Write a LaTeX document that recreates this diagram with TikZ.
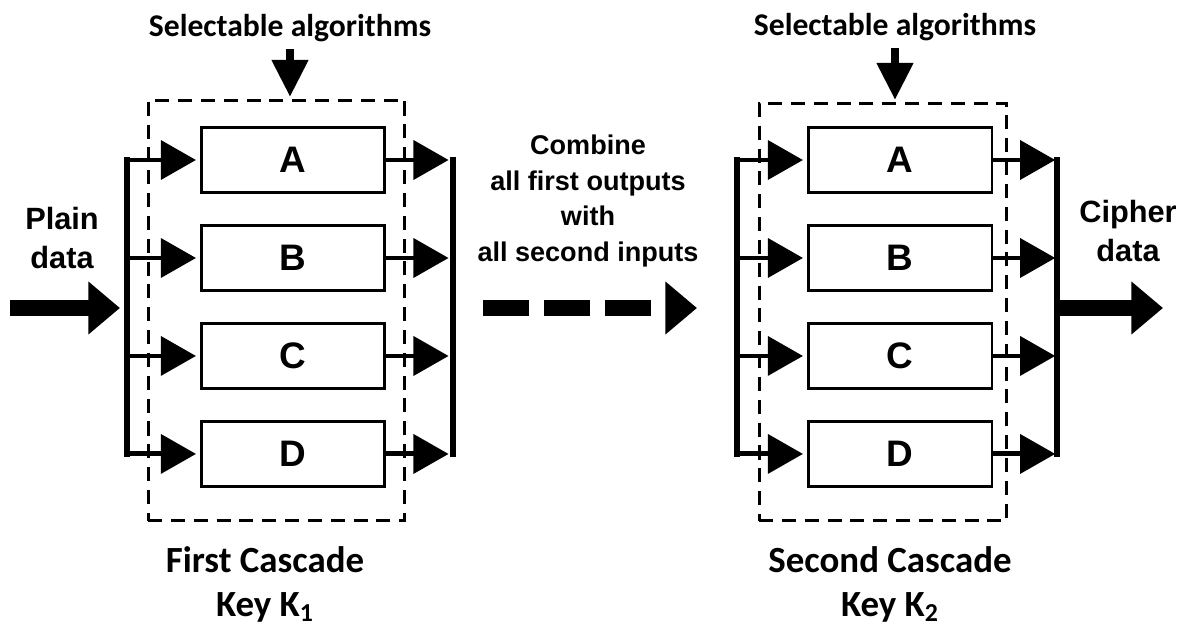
\documentclass[tikz,border=0pt]{standalone}
\usepackage{fontspec}
\setmainfont{Liberation Sans}
\newfontfamily\calfont{Carlito}
\usetikzlibrary{arrows.meta}
\usetikzlibrary{positioning}

\tikzset{
  algo/.style={draw,line width=1.7pt,minimum width=3.68cm,minimum height=1.3cm,inner sep=0pt,
    font=\fontsize{21}{24}\selectfont\bfseries},
  cascade/.style={draw,line width=1.7pt,dash pattern=on 8pt off 5pt,inner sep=0pt},
  branch/.style={line width=2.8pt,-{Triangle[length=20pt,width=22pt]}},
  bus/.style={line width=3.4pt,line cap=rect},
  bigarrow/.style={line width=9pt,-{Triangle[length=18pt,width=29pt]}},
  downarrow/.style={line width=4.2pt,-{Triangle[length=21pt,width=20pt]}},
  toplabel/.style={font=\calfont\fontsize{18}{21}\selectfont\bfseries,inner sep=0pt},
  sidelabel/.style={align=center,font=\fontsize{17.5}{22.5}\selectfont\bfseries},
  keylabel/.style={align=center,font=\calfont\fontsize{21}{25}\selectfont\bfseries}
}

\begin{document}
\begin{tikzpicture}[x=0.02cm,y=-0.02cm,node distance=1.96cm]
  \useasboundingbox (0,0) rectangle (1183,632);

  % first cascade
  \node[cascade,minimum width=5.14cm,minimum height=8.42cm] (K1) at (276.5,310.5) {};
  \node[algo]	(A1)	at (293,160)	{A};
  \node[algo]	(B1)	[below of=A1]	{B};
  \node[algo]	(C1)	[below of=B1]	{C};
  \node[algo]	(D1)	[below of=C1]	{D};

  % second cascade
  \node[cascade,minimum width=4.96cm,minimum height=8.36cm] (K2) at (883,312) {};
  \node[algo]	(A2)	at (900,160)	{A};
  \node[algo]	(B2)	[below of=A2]	{B};
  \node[algo]	(C2)	[below of=B2]	{C};
  \node[algo]	(D2)	[below of=C2]	{D};

  % buses
  \coordinate (in1)  at (127,0);
  \coordinate (out1) at (453,0);
  \coordinate (in2)  at (737,0);
  \coordinate (out2) at (1057,0);
  \draw[bus] (in1 |- A1) -- (in1 |- D1);
  \draw[bus] (out1 |- A1) -- (out1 |- D1);
  \draw[bus] (in2 |- A2) -- (in2 |- D2);
  \draw[bus] (out2 |- A2) -- (out2 |- D2);

  % branches
  \draw[branch,shorten >=2pt] (in1 |- A1) -- (A1.west);
  \draw[branch,shorten >=2pt] (in1 |- B1) -- (B1.west);
  \draw[branch,shorten >=2pt] (in1 |- C1) -- (C1.west);
  \draw[branch,shorten >=2pt] (in1 |- D1) -- (D1.west);
  \draw[branch,shorten >=2.5pt] (A1.east) -- (out1 |- A1);
  \draw[branch,shorten >=2.5pt] (B1.east) -- (out1 |- B1);
  \draw[branch,shorten >=2.5pt] (C1.east) -- (out1 |- C1);
  \draw[branch,shorten >=2.5pt] (D1.east) -- (out1 |- D1);
  \draw[branch,shorten >=2pt] (in2 |- A2) -- (A2.west);
  \draw[branch,shorten >=2pt] (in2 |- B2) -- (B2.west);
  \draw[branch,shorten >=2pt] (in2 |- C2) -- (C2.west);
  \draw[branch,shorten >=2pt] (in2 |- D2) -- (D2.west);
  \draw[branch,shorten >=1pt] (A2.east) -- (out2 |- A2);
  \draw[branch,shorten >=1pt] (B2.east) -- (out2 |- B2);
  \draw[branch,shorten >=1pt] (C2.east) -- (out2 |- C2);
  \draw[branch,shorten >=1pt] (D2.east) -- (out2 |- D2);

  % data in and out
  \node[sidelabel] (plain)  at (62,238)   {Plain\\data};
  \node[sidelabel] (cipher) at (1128,231) {Cipher\\data};
  \coordinate (src) at (10,308);
  \coordinate (dst) at (1163,308);
  \draw[bigarrow,shorten >=4pt] (src) -- (in1 |- src);
  \draw[bigarrow] (out2 |- dst) -- (dst);

  % link between the cascades
  \node[align=center,font=\fontsize{15.4}{20.3}\selectfont\bfseries] (combine) at (588,201)
    {Combine\\all first outputs\\with\\all second inputs};
  \coordinate (link1) at (483,308);
  \coordinate (link2) at (697,308);
  \draw[bigarrow,dash pattern=on 26.2pt off 8.5pt] (link1) -- (link2);

  % algorithm selection
  \node[toplabel] (sel1) at (290,28) {Selectable algorithms};
  \node[toplabel] (sel2) at (895,27) {Selectable algorithms};
  \draw[downarrow,shorten <=4pt,shorten >=1pt] (sel1.south) -- (sel1.south |- K1.north);
  \draw[downarrow,shorten <=4pt,shorten >=1pt] (sel2.south) -- (sel2.south |- K2.north);

  % keys
  \node[keylabel] (key1) at (265,584) {First Cascade\\Key K\textsubscript{1}};
  \node[keylabel] (key2) at (890,584) {Second Cascade\\Key K\textsubscript{2}};
\end{tikzpicture}
\end{document}
